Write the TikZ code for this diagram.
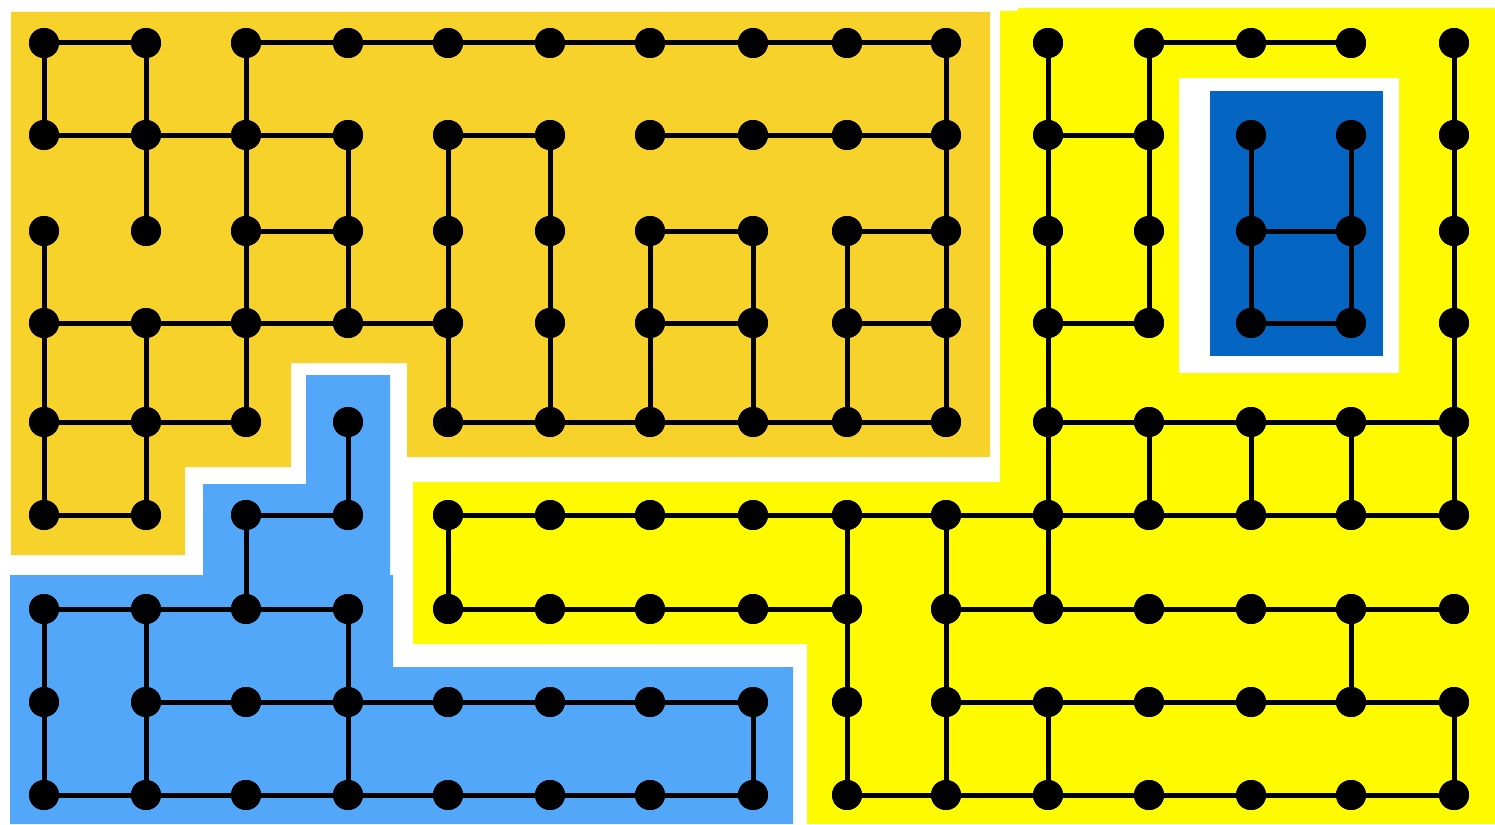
\documentclass[tikz,border=0pt]{standalone}
\usetikzlibrary{calc}
\definecolor{orangebg}{HTML}{F6D22B}
\definecolor{lightbluebg}{HTML}{52A7F9}
\definecolor{yellowbg}{HTML}{FEFB00}
\definecolor{darkbluebg}{HTML}{0466C2}
\tikzset{
  dot/.style={circle,fill=black,draw=none,inner sep=0pt,minimum size=30pt},
  edge/.style={draw=black,line width=5pt},
  region/.style={draw=none}
}
\begin{document}
\begin{tikzpicture}[x=1pt,y=-1pt]
\useasboundingbox (0,0) rectangle (1495,824);
\fill[white] (0,0) rectangle (1495,824);
% regions
\fill[orangebg,region] (11,12) -- (990,12) -- (990,457) -- (407,457) -- (407,363) -- (291,363) -- (291,467) -- (185,467) -- (185,555) -- (11,555) -- cycle;
\fill[lightbluebg,region] (306,375) -- (390,375) -- (390,575) -- (393,575) -- (393,667) -- (793,667) -- (793,824) -- (10,824) -- (10,575) -- (203,575) -- (203,484) -- (306,484) -- cycle;
\fill[yellowbg,region] (1000,11) -- (1018,11) -- (1018,8) -- (1495,8) -- (1495,824) -- (807,824) -- (807,644) -- (413,644) -- (413,482) -- (1000,482) -- cycle;
\fill[white,region] (1179,78) rectangle (1399,373);
\fill[darkbluebg,region] (1210,91) rectangle (1383,356);
% nodes
\foreach \c/\x in {0/44,1/146,2/246,3/348,4/448,5/550,6/650,7/753,8/847,9/946,10/1048,11/1149,12/1251,13/1351,14/1454}{
  \foreach \r/\y in {0/43,1/135,2/231,3/323,4/422,5/515,6/609,7/702,8/795}{
    \node[dot] (n-\c-\r) at (\x,\y) {};
  }
}
% horizontal connectors
\foreach \r/\cs in {0/{0,2,3,4,5,6,7,8,11,12},
                    1/{0,1,2,4,6,7,8,10},
                    2/{2,6,8,12},
                    3/{0,1,2,3,6,8,10,12},
                    4/{0,1,4,5,6,7,8,10,11,12,13},
                    5/{0,2,4,5,6,7,8,9,10,11,12,13},
                    6/{0,1,2,4,5,6,7,9,10,11,12,13},
                    7/{1,2,3,4,5,6,9,10,11,12,13},
                    8/{0,1,2,3,4,5,6,8,9,10,11,12,13}}{
  \foreach \c in \cs {
    \pgfmathtruncatemacro\d{\c+1}
    \draw[edge] (n-\c-\r.center) -- (n-\d-\r.center);
  }
}
% vertical connectors
\foreach \r/\cs in {0/{0,1,2,9,10,11,14},
                    1/{1,2,3,4,5,9,10,11,12,13,14},
                    2/{0,2,3,4,5,6,7,8,9,10,11,12,13,14},
                    3/{0,1,2,4,5,6,7,8,9,10,14},
                    4/{0,1,3,10,11,12,13,14},
                    5/{2,4,8,9,10},
                    6/{0,1,3,8,9,13},
                    7/{0,1,3,7,8,9,10,14}}{
  \foreach \c in \cs {
    \pgfmathtruncatemacro\s{\r+1}
    \draw[edge] (n-\c-\r.center) -- (n-\c-\s.center);
  }
}
% redraw dots on top
\foreach \c in {0,...,14}{
  \foreach \r in {0,...,8}{
    \fill[black] (n-\c-\r.center) circle (15pt);
  }
}
\end{tikzpicture}
\end{document}
